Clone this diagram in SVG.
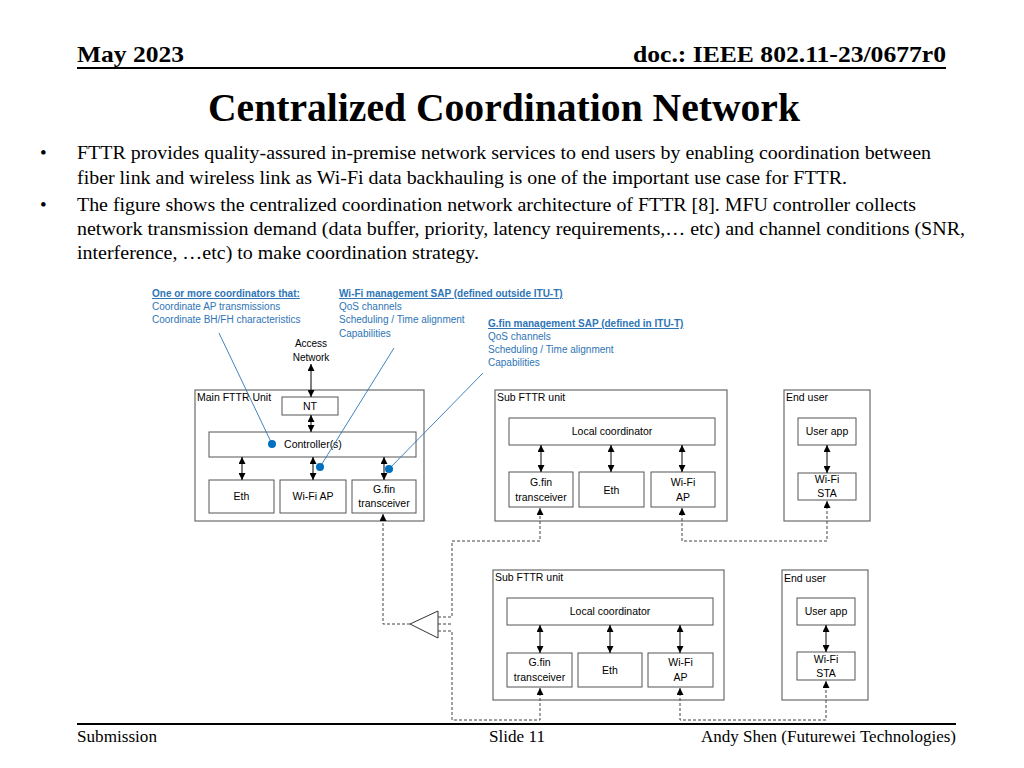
<svg xmlns="http://www.w3.org/2000/svg" width="1024" height="768" viewBox="0 0 1024 768">
<style>
.hdr{font-family:"Liberation Serif",serif;font-weight:bold;font-size:24px;fill:#000}
.title{font-family:"Liberation Serif",serif;font-weight:bold;font-size:39px;fill:#000}
.body{font-family:"Liberation Serif",serif;font-size:19px;fill:#000}
.foot{font-family:"Liberation Serif",serif;font-size:17px;fill:#000}
.ann{font-family:"Liberation Sans",Arial,sans-serif;font-size:10px;fill:#2E75B6}
.annh{font-family:"Liberation Sans",Arial,sans-serif;font-size:10px;fill:#2E75B6;font-weight:bold;text-decoration:underline}
.lbl{font-family:"Liberation Sans",Arial,sans-serif;font-size:10.5px;fill:#000}
.ctr{font-family:"Liberation Sans",Arial,sans-serif;font-size:10.5px;fill:#000;text-anchor:middle}
.outer{fill:#fff;stroke:#6b6b6b;stroke-width:1.2}
.box{fill:#fff;stroke:#555;stroke-width:1}
.arr{stroke:#000;stroke-width:1;fill:none;marker-start:url(#ah);marker-end:url(#ah)}
.dash{stroke:#444;stroke-width:1;fill:none;stroke-dasharray:3,2}
.lead{stroke:#2E75B6;stroke-width:0.9;fill:none}
.dot{fill:#0070C0}
</style>
<defs>
<marker id="ah" viewBox="0 0 10 10" refX="10" refY="5" markerWidth="7" markerHeight="7" markerUnits="userSpaceOnUse" orient="auto-start-reverse">
<path d="M0,0 L10,5 L0,10 z" fill="#000"/>
</marker>
</defs>
<rect width="1024" height="768" fill="#fff"/>

<g id="header">
<text class="hdr" x="77" y="62" textLength="107" lengthAdjust="spacingAndGlyphs">May 2023</text>
<text class="hdr" x="633" y="62" textLength="313" lengthAdjust="spacingAndGlyphs">doc.: IEEE 802.11-23/0677r0</text>
<line x1="77" y1="68" x2="946" y2="68" stroke="#000" stroke-width="2"/>
<text class="title" x="208" y="121" textLength="592" lengthAdjust="spacingAndGlyphs">Centralized Coordination Network</text>
</g>

<g id="bullets">
<text class="body" x="40" y="159">•</text>
<text class="body" x="77" y="159" textLength="854" lengthAdjust="spacingAndGlyphs">FTTR provides quality-assured in-premise network services to end users by enabling coordination between</text>
<text class="body" x="77" y="184" textLength="770" lengthAdjust="spacingAndGlyphs">fiber link and wireless link as Wi-Fi data backhauling is one of the important use case for FTTR.</text>
<text class="body" x="40" y="211">•</text>
<text class="body" x="77" y="211" textLength="839" lengthAdjust="spacingAndGlyphs">The figure shows the centralized coordination network architecture of FTTR [8]. MFU controller collects</text>
<text class="body" x="77" y="235" textLength="888" lengthAdjust="spacingAndGlyphs">network transmission demand (data buffer, priority, latency requirements,… etc) and channel conditions (SNR,</text>
<text class="body" x="77" y="259" textLength="402" lengthAdjust="spacingAndGlyphs">interference, …etc) to make coordination strategy.</text>
</g>

<g id="annotations">
<text class="annh" x="152" y="297">One or more coordinators that:</text>
<text class="ann" x="152" y="310">Coordinate AP transmissions</text>
<text class="ann" x="152" y="323">Coordinate BH/FH characteristics</text>
<text class="annh" x="339" y="297">Wi-Fi management SAP (defined outside ITU-T)</text>
<text class="ann" x="339" y="310">QoS channels</text>
<text class="ann" x="339" y="323">Scheduling / Time alignment</text>
<text class="ann" x="339" y="337">Capabilities</text>
<text class="annh" x="488" y="327">G.fin management SAP (defined in ITU-T)</text>
<text class="ann" x="488" y="340">QoS channels</text>
<text class="ann" x="488" y="353">Scheduling / Time alignment</text>
<text class="ann" x="488" y="366">Capabilities</text>
<text class="ctr" x="311" y="347" style="font-size:10px">Access</text>
<text class="ctr" x="311" y="361" style="font-size:10px">Network</text>
</g>

<g id="main-fttr-unit">
<rect class="outer" x="195" y="390" width="229" height="131"/>
<text class="lbl" x="197" y="401">Main FTTR Unit</text>
</g>
<g id="nt">
<rect class="box" x="282" y="397" width="56" height="18"/>
<text class="ctr" x="310" y="410">NT</text>
</g>
<g id="controller">
<rect class="box" x="209" y="432" width="207" height="25"/>
<text class="ctr" x="313" y="448">Controller(s)</text>
</g>
<g id="main-eth">
<rect class="box" x="209" y="480" width="65" height="33"/>
<text class="ctr" x="241.5" y="500">Eth</text>
</g>
<g id="main-wifi-ap">
<rect class="box" x="280" y="480" width="66" height="33"/>
<text class="ctr" x="313" y="500">Wi-Fi AP</text>
</g>
<g id="main-gfin">
<rect class="box" x="352" y="480" width="64" height="33"/>
<text class="ctr" x="384" y="493">G.fin</text>
<text class="ctr" x="384" y="507">transceiver</text>
</g>

<g id="sub-fttr-1">
<rect class="outer" x="495" y="390" width="232" height="131"/>
<text class="lbl" x="497" y="401">Sub FTTR unit</text>
</g>
<g id="local-coord-1">
<rect class="box" x="509" y="418" width="206" height="27"/>
<text class="ctr" x="612" y="435">Local coordinator</text>
</g>
<g id="sub1-gfin">
<rect class="box" x="509" y="472" width="64" height="35"/>
<text class="ctr" x="541" y="486">G.fin</text>
<text class="ctr" x="541" y="501">transceiver</text>
</g>
<g id="sub1-eth">
<rect class="box" x="579" y="472" width="65" height="35"/>
<text class="ctr" x="611.5" y="494">Eth</text>
</g>
<g id="sub1-wifi-ap">
<rect class="box" x="651" y="472" width="64" height="35"/>
<text class="ctr" x="683" y="486">Wi-Fi</text>
<text class="ctr" x="683" y="501">AP</text>
</g>

<g id="end-user-1">
<rect class="outer" x="784" y="390" width="86" height="131"/>
<text class="lbl" x="786" y="401">End user</text>
</g>
<g id="user-app-1">
<rect class="box" x="798" y="418" width="58" height="27"/>
<text class="ctr" x="827" y="435">User app</text>
</g>
<g id="wifi-sta-1">
<rect class="box" x="798" y="473" width="58" height="27"/>
<text class="ctr" x="827" y="483">Wi-Fi</text>
<text class="ctr" x="827" y="497">STA</text>
</g>

<g id="sub-fttr-2">
<rect class="outer" x="493" y="570" width="231" height="130"/>
<text class="lbl" x="495" y="581">Sub FTTR unit</text>
</g>
<g id="local-coord-2">
<rect class="box" x="507" y="598" width="206" height="27"/>
<text class="ctr" x="610" y="615">Local coordinator</text>
</g>
<g id="sub2-gfin">
<rect class="box" x="507" y="653" width="65" height="34"/>
<text class="ctr" x="539.5" y="666">G.fin</text>
<text class="ctr" x="539.5" y="681">transceiver</text>
</g>
<g id="sub2-eth">
<rect class="box" x="578" y="653" width="64" height="34"/>
<text class="ctr" x="610" y="674">Eth</text>
</g>
<g id="sub2-wifi-ap">
<rect class="box" x="648" y="653" width="65" height="34"/>
<text class="ctr" x="680.5" y="666">Wi-Fi</text>
<text class="ctr" x="680.5" y="681">AP</text>
</g>

<g id="end-user-2">
<rect class="outer" x="782" y="570" width="86" height="130"/>
<text class="lbl" x="784" y="582">End user</text>
</g>
<g id="user-app-2">
<rect class="box" x="797" y="598" width="58" height="27"/>
<text class="ctr" x="826" y="615">User app</text>
</g>
<g id="wifi-sta-2">
<rect class="box" x="797" y="652" width="58" height="28"/>
<text class="ctr" x="826" y="663">Wi-Fi</text>
<text class="ctr" x="826" y="677">STA</text>
</g>

<g id="splitter">
<path d="M410,624 L438,611 L438,638 Z" fill="#fff" stroke="#333" stroke-width="1"/>
</g>

<g id="connectors">
<line class="arr" x1="311" y1="364" x2="311" y2="397"/>
<line class="arr" x1="311" y1="415" x2="311" y2="432"/>
<line class="arr" x1="242" y1="457" x2="242" y2="480"/>
<line class="arr" x1="313" y1="457" x2="313" y2="480"/>
<line class="arr" x1="384" y1="457" x2="384" y2="480"/>
<line class="arr" x1="541" y1="445" x2="541" y2="472"/>
<line class="arr" x1="611" y1="445" x2="611" y2="472"/>
<line class="arr" x1="682" y1="445" x2="682" y2="472"/>
<line class="arr" x1="827" y1="445" x2="827" y2="473"/>
<line class="arr" x1="540" y1="625" x2="540" y2="653"/>
<line class="arr" x1="610" y1="625" x2="610" y2="653"/>
<line class="arr" x1="680" y1="625" x2="680" y2="653"/>
<line class="arr" x1="826" y1="625" x2="826" y2="652"/>

<path class="dash" d="M410,624 H383 V514" marker-end="url(#ah)"/>
<path class="dash" d="M438,617 H452 V541 H540 V508" marker-end="url(#ah)"/>
<path class="dash" d="M438,624 H452"/>
<path class="dash" d="M438,631 H452 V720 H540 V688" marker-end="url(#ah)"/>
<path class="dash" d="M682,508 V541 H827 V501" marker-start="url(#ah)" marker-end="url(#ah)"/>
<path class="dash" d="M680,688 V720 H826 V681" marker-start="url(#ah)" marker-end="url(#ah)"/>

<line class="lead" x1="219" y1="333" x2="272" y2="444"/>
<line class="lead" x1="394" y1="348" x2="320" y2="467"/>
<line class="lead" x1="483" y1="373" x2="389" y2="469"/>
<circle class="dot" cx="272" cy="444" r="4"/>
<circle class="dot" cx="320" cy="467" r="4"/>
<circle class="dot" cx="389" cy="469" r="4"/>
</g>

<g id="footer">
<line x1="77" y1="724" x2="956" y2="724" stroke="#000" stroke-width="2"/>
<text class="foot" x="77" y="742" textLength="80" lengthAdjust="spacingAndGlyphs">Submission</text>
<text class="foot" x="489" y="742" textLength="56" lengthAdjust="spacingAndGlyphs">Slide 11</text>
<text class="foot" x="701" y="742" textLength="255" lengthAdjust="spacingAndGlyphs">Andy Shen (Futurewei Technologies)</text>
</g>
</svg>
